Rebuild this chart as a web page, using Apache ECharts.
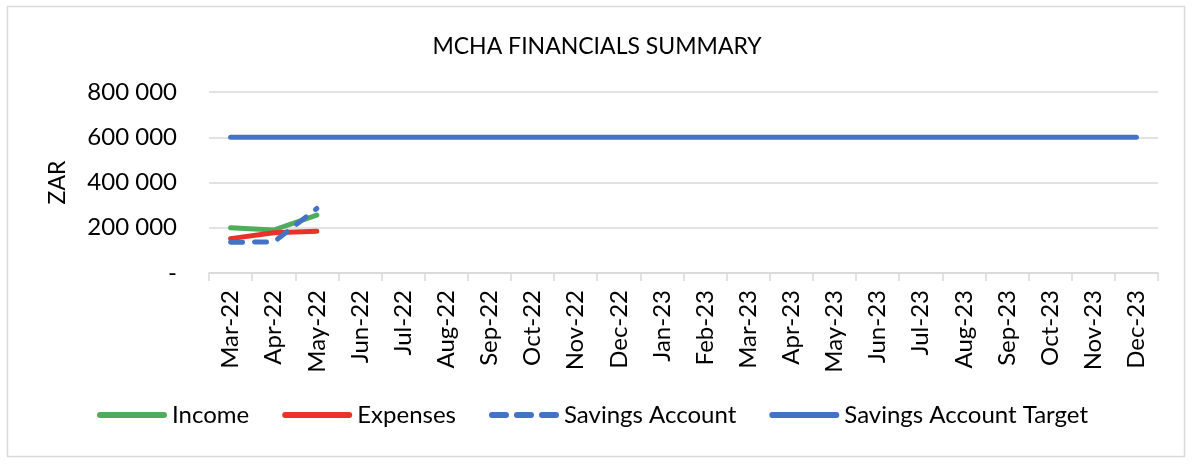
<!DOCTYPE html>
<html>
<head>
<meta charset="utf-8">
<script src="https://cdn.jsdelivr.net/npm/echarts@6/dist/echarts.min.js"></script>
<style>
  html, body { margin: 0; padding: 0; background: #fff; }
  #main { width: 1194px; height: 470px; }
</style>
</head>
<body>
<div id="main"></div>
<script>
  // months on the x axis
  var months = ['Mar-22', 'Apr-22', 'May-22', 'Jun-22', 'Jul-22', 'Aug-22', 'Sep-22', 'Oct-22',
    'Nov-22', 'Dec-22', 'Jan-23', 'Feb-23', 'Mar-23', 'Apr-23', 'May-23', 'Jun-23', 'Jul-23',
    'Aug-23', 'Sep-23', 'Oct-23', 'Nov-23', 'Dec-23'];
  // values (ZAR)
  var income = [200000, 190000, 256000];
  var expenses = [152000, 178000, 185000];
  var savings = [136000, 137000, 285000];
  var target = [600000, 600000, 600000, 600000, 600000, 600000, 600000, 600000, 600000, 600000, 600000,
    600000, 600000, 600000, 600000, 600000, 600000, 600000, 600000, 600000, 600000, 600000];
  var yTicks = [0, 200000, 400000, 600000, 800000];

  var fontName = 'Lato, "Liberation Sans", sans-serif';

  // legend icons: rounded bar, and three rounded dashes
  var solidIcon = 'path://M3,0 L67,0 A3,3 0 0 1 67,6 L3,6 A3,3 0 0 1 3,0 Z';
  var dashIcon = 'path://M3,0 L17,0 A3,3 0 0 1 17,6 L3,6 A3,3 0 0 1 3,0 Z ' +
    'M28,0 L42,0 A3,3 0 0 1 42,6 L28,6 A3,3 0 0 1 28,0 Z ' +
    'M53,0 L67,0 A3,3 0 0 1 67,6 L53,6 A3,3 0 0 1 53,0 Z';

  var fmtZar = function (v) {
    if (v === 0) return '-';
    return String(v).replace(/\B(?=(\d{3})+(?!\d))/g, ' ');
  };

  var chart = echarts.init(document.getElementById('main'));
  var option = {
    backgroundColor: '#fff',
    animation: false,
    textStyle: { fontFamily: fontName },
    graphic: [{
      type: 'rect',
      shape: { x: 7.5, y: 6.5, width: 1177, height: 450 },
      style: { fill: 'none', stroke: '#d9d9d9', lineWidth: 1.5 },
      silent: true
    }],
    title: {
      text: 'MCHA FINANCIALS SUMMARY',
      left: 'center',
      top: 30,
      textStyle: { fontFamily: fontName, fontSize: 23, fontWeight: 'normal', color: '#000' }
    },
    legend: {
      bottom: 38,
      left: 92,
      itemWidth: 70,
      itemHeight: 6,
      itemGap: 33,
      textStyle: { fontFamily: fontName, fontSize: 24, color: '#000' },
      data: [
        { name: 'Income', icon: solidIcon },
        { name: 'Expenses', icon: solidIcon },
        { name: 'Savings Account', icon: dashIcon },
        { name: 'Savings Account Target', icon: solidIcon }
      ]
    },
    grid: { left: 209, right: 36, top: 92, bottom: 197 },
    xAxis: {
      type: 'category',
      data: months,
      boundaryGap: true,
      axisLine: { lineStyle: { color: '#d9d9d9', width: 1.5 } },
      axisTick: { show: true, length: 8, lineStyle: { color: '#d9d9d9', width: 1.5 } },
      axisLabel: { rotate: 90, margin: 17, fontSize: 24, color: '#000', fontFamily: fontName, interval: 0 }
    },
    yAxis: {
      type: 'value',
      min: yTicks[0],
      max: yTicks[yTicks.length - 1],
      interval: 200000,
      name: 'ZAR',
      nameLocation: 'middle',
      nameRotate: 90,
      nameGap: 140,
      nameTextStyle: { fontSize: 23, color: '#000', fontFamily: fontName },
      axisLine: { show: false },
      axisTick: { show: false },
      splitLine: { lineStyle: { color: '#d9d9d9', width: 1.5 } },
      axisLabel: { formatter: fmtZar, fontSize: 24, color: '#000', margin: 32, fontFamily: fontName }
    },
    series: [
      {
        name: 'Income', type: 'line', data: income, symbol: 'none',
        itemStyle: { color: '#4ead5b' },
        lineStyle: { color: '#4ead5b', width: 5, cap: 'round' }
      },
      {
        name: 'Expenses', type: 'line', data: expenses, symbol: 'none',
        itemStyle: { color: '#e8322a' },
        lineStyle: { color: '#e8322a', width: 5, cap: 'round' }
      },
      {
        name: 'Savings Account', type: 'line', data: savings, symbol: 'none',
        itemStyle: { color: '#4472c4' },
        lineStyle: { color: '#4472c4', width: 5, type: [12, 12], cap: 'round' }
      },
      {
        name: 'Savings Account Target', type: 'line', data: target, symbol: 'none',
        itemStyle: { color: '#4472c4' },
        lineStyle: { color: '#4472c4', width: 5, cap: 'round' }
      }
    ]
  };
  chart.setOption(option);
</script>
</body>
</html>
